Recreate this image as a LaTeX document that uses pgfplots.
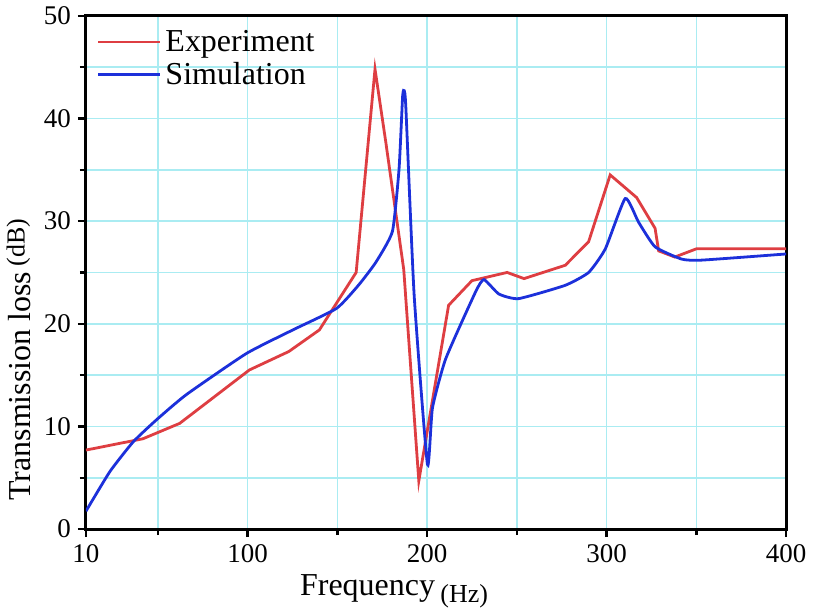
\documentclass[border=0pt]{standalone}
\usepackage{pgfplots}
\pgfplotsset{compat=1.18}
\usepackage{fontspec}
\setmainfont{Liberation Serif}
\definecolor{expred}{RGB}{222,62,66}
\definecolor{simblue}{RGB}{28,48,218}
\definecolor{gridcyan}{RGB}{170,236,242}
\begin{document}
\begin{tikzpicture}
\begin{axis}[
  scale only axis,
  width=350.5pt, height=257pt,
  xmin=10, xmax=400, ymin=0, ymax=50,
  xtick={10,100,200,300,400},
  minor xtick={50,150,250,350},
  ytick={0,10,20,30,40,50},
  minor ytick={5,15,25,35,45},
  xmajorgrids, xminorgrids, ymajorgrids, yminorgrids,
  grid style={gridcyan, line width=0.8pt},
  minor grid style={gridcyan, line width=0.8pt},
  axis line style={line width=1.5pt},
  tick style={black, line width=1.2pt},
  major tick length=4pt, minor tick length=3pt,
  tick align=outside,
  tick pos=left,
  /pgf/number format/assume math mode=true,
  ticklabel style={font=\fontsize{13.5}{15}\selectfont},
  xlabel={Frequency\,\raisebox{-3.5pt}{\fontsize{13}{15}\selectfont(Hz)}},
  ylabel={Transmission loss\,\raisebox{3pt}{\fontsize{13}{15}\selectfont(dB)}},
  label style={font=\fontsize{16}{18}\selectfont},
  xlabel style={at={(axis description cs:0.44,0)}, anchor=north, yshift=-19pt},
  ylabel style={at={(axis description cs:0,0.33)}, anchor=south, yshift=24pt},
  legend style={draw=none, fill=none, at={(axis description cs:0.012,0.985)}, anchor=north west,
    font=\fontsize{16}{18}\selectfont, row sep=0pt, inner sep=1pt},
  legend cell align=left,
  legend image code/.code={\draw[#1] (0pt,0pt) -- (31pt,0pt);},
  clip=true,
]
\addplot[expred, line width=1.4pt] coordinates {
(10,7.7) (41.7,8.8) (62.2,10.3) (101,15.5) (123,17.3) (140,19.4) (160.5,25.0)
(171,44.8) (177,37.7) (187,25.3) (195.4,4.7) (212,21.8) (225,24.2) (244.6,25.0)
(254,24.4) (277,25.7) (290,28.0) (302,34.5) (316.7,32.3) (327,29.3) (329,27.1)
(338,26.5) (350,27.3) (400,27.3)
};
\addlegendentry{Experiment}
\addplot[simblue, line width=1.4pt, smooth, tension=0.3] coordinates {
(10,1.75) (23.3,5.6) (36.3,8.5) (49.3,10.65) (65.9,13.1) (99.3,17.1) (125.2,19.4)
(149.6,21.5) (162,23.8) (171.5,26.0) (180.7,29.0) (184.4,35.1) (186.4,42.2)
(187.3,42.7) (188.2,41.0) (192.8,22.8) (200.2,6.3) (203,11.8) (210.4,16.6) (227,23.1)
(231.7,24.3) (240,22.9) (251,22.45) (277,23.75) (290,25.0) (299.3,27.3)
(310.4,32.2) (317.8,29.9) (327,27.5) (341.8,26.3) (353,26.2) (400,26.8)
};
\addlegendentry{Simulation}
\end{axis}
\end{tikzpicture}
\end{document}
